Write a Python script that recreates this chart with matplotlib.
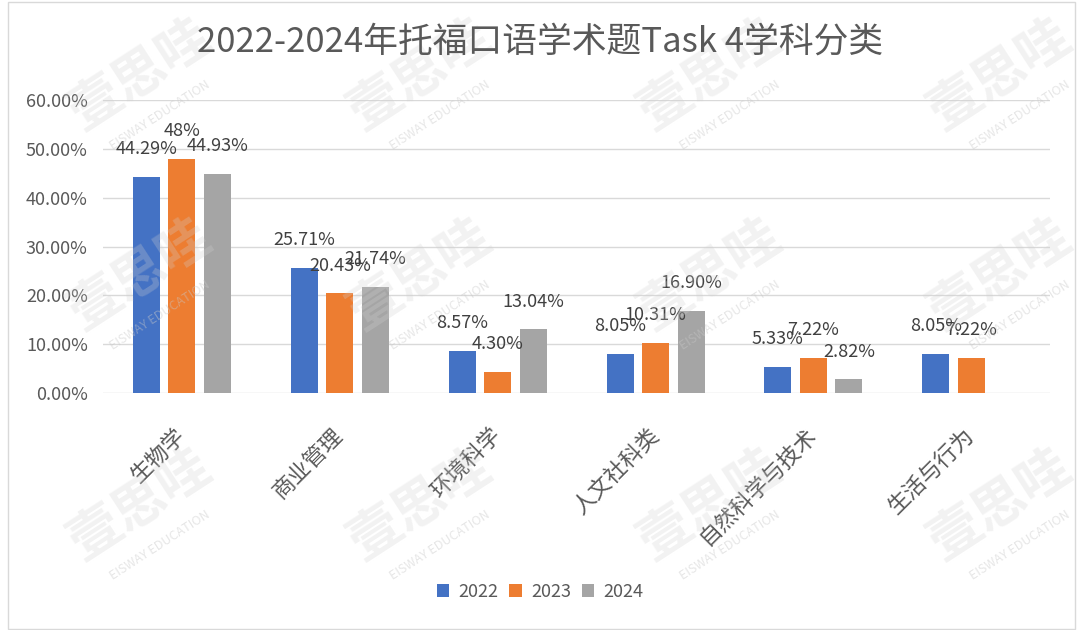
import numpy as np
import matplotlib
matplotlib.use('Agg')
import matplotlib.pyplot as plt
from matplotlib.patches import Rectangle

plt.rcParams['font.family'] = ['Noto Sans CJK SC', 'DejaVu Sans']

# 数据
categories = ['生物学', '商业管理', '环境科学', '人文社科类', '自然科学与技术', '生活与行为']
years = ['2022', '2023', '2024']
v2022 = [44.29, 25.71, 8.57, 8.05, 5.33, 8.05]
v2023 = [48, 20.43, 4.30, 10.31, 7.22, 7.22]
v2024 = [44.93, 21.74, 13.04, 16.90, 2.82, None]
y_ticks = [0, 10, 20, 30, 40, 50, 60]

colors = ['#4472C4', '#ED7D31', '#A5A5A5']
series = [v2022, v2023, v2024]

fig = plt.figure(figsize=(10.8, 6.3), dpi=100)
ax = fig.add_axes([0.0954, 0.376, 0.877, 0.465])

# 水印
wm_x = [140, 420, 710, 1000]
wm_y = [75, 275, 505]
for wy in wm_y:
    for wx in wm_x:
        fig.text(wx / 1080, 1 - wy / 630, '壹思哇', fontsize=38, fontweight='bold',
                 color='#d0d0d0', alpha=0.28, rotation=33, ha='center', va='center', zorder=0)
        fig.text((wx + 20) / 1080, 1 - (wy + 40) / 630, 'EISWAY EDUCATION', fontsize=9,
                 color='#c8c8c8', alpha=0.45, rotation=33, ha='center', va='center', zorder=0)

x = np.arange(len(categories))
width = 0.171
step = 0.225

for i, (vals, c, yr) in enumerate(zip(series, colors, years)):
    xs = x + (i - 1) * step
    hv = [np.nan if v is None else v for v in vals]
    ax.bar(xs, hv, width=width, color=c, label=yr, zorder=3)
    for xx, v in zip(xs, vals):
        if v is None:
            continue
        txt = f'{v:g}%' if float(v).is_integer() else f'{v:.2f}%'
        ax.annotate(txt, (xx, v), xytext=(0, 20), textcoords='offset points',
                    ha='center', va='center', fontsize=13, color='#404040', zorder=4)

ax.set_xlim(-0.5, 5.5)
ax.set_ylim(0, 60)
ax.set_yticks(y_ticks)
ax.set_yticklabels([f'{t:.2f}%' for t in y_ticks], fontsize=13, color='#595959')
ax.set_xticks(x)
ax.set_xticklabels(categories, fontsize=16, color='#595959', rotation=45,
                   ha='right', va='center', rotation_mode='anchor')
ax.tick_params(axis='y', length=0, pad=11)
ax.tick_params(axis='x', length=0, pad=28)
ax.grid(axis='y', color='#d9d9d9', linewidth=1, zorder=0)
for s in ax.spines.values():
    s.set_visible(False)
ax.patch.set_alpha(0)

fig.suptitle('2022-2024年托福口语学术题Task 4学科分类', x=0.5, y=1 - 42 / 630,
             va='center', fontsize=25, color='#595959')

fig.legend(loc='center', bbox_to_anchor=(0.5, 1 - 592 / 630), ncol=3, frameon=False,
           fontsize=13, handlelength=0.7, handleheight=0.7, handletextpad=0.5,
           columnspacing=0.6, labelcolor='#595959')

fig.patches.append(Rectangle((8 / 1080, 0.002), 1067 / 1080, 0.995, transform=fig.transFigure,
                             fill=False, edgecolor='#d9d9d9', linewidth=1))

fig.savefig('out.png', dpi=100)
